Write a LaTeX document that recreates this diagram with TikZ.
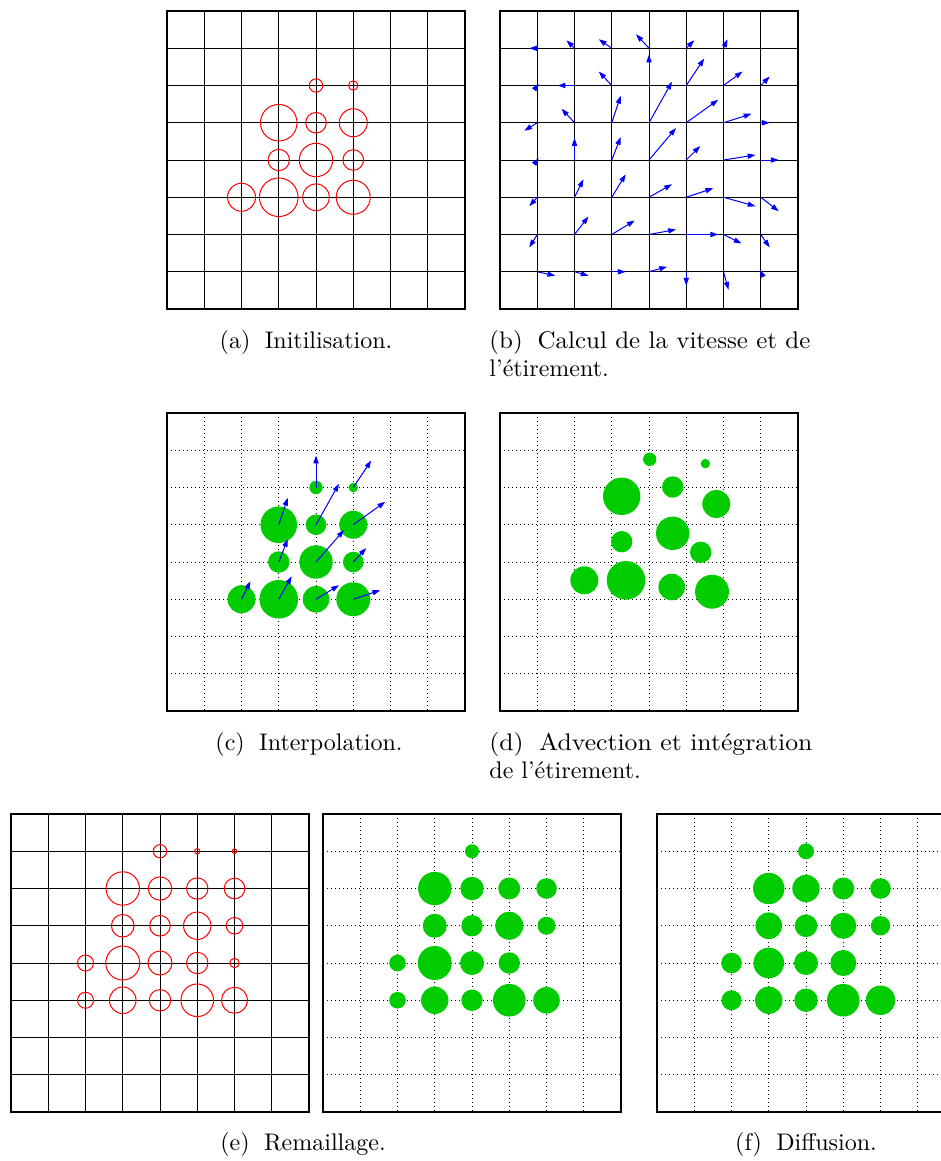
\documentclass[tikz,border=0pt]{standalone}
\usetikzlibrary{arrows.meta}
\definecolor{pgreen}{RGB}{0,204,0}
\newcommand\gridsolid{%
  \foreach \k in {1,...,7}{\draw[gl] (\k,0)--(\k,8); \draw[gl] (0,\k)--(8,\k);}%
  \draw[frm] (0,0) rectangle (8,8);}
\newcommand\griddotted{%
  \foreach \k in {1,...,7}{\draw[dl] (\k,0)--(\k,8); \draw[dl] (0,\k)--(8,\k);}%
  \draw[frm] (0,0) rectangle (8,8);}
\newcommand\captext[1]{\scalebox{1.2}{#1}}
\newcommand\capwide[2]{\resizebox{#1}{1.2\height}{#2}}
\begin{document}
\begin{tikzpicture}[x=0.5pt,y=-0.5pt,
  gl/.style={line width=0.5pt},
  dl/.style={line width=0.5pt, dash pattern=on 0.5pt off 1.5pt},
  frm/.style={line width=1pt},
  rc/.style={draw=red, line width=0.5pt},
  gc/.style={fill=pgreen},
  vel/.style={blue, line width=0.5pt, -{Triangle[length=3.9pt,width=2.6pt]}},
  captxt/.style={font=\fontsize{10}{12}\selectfont, inner sep=0pt},
  cell/.style={x=18.625pt,y=-18.625pt}]
\path[use as bounding box] (0,0) rectangle (941,1161);

% ---------- (a) ----------
\begin{scope}[shift={(167,11)},cell]
  \gridsolid
  \foreach \i/\j/\r in {4/2/6.7,5/2/4.7,3/3/18.3,4/3/10.3,5/3/14,3/4/10.7,4/4/16.7,5/4/10.3,2/5/14,3/5/19.3,4/5/13.3,5/5/17}{
    \pgfmathsetmacro\rr{\r*0.5}
    \draw[rc] (\i,\j) circle[radius=\rr pt];}
\end{scope}

% ---------- (b) ----------
\begin{scope}[shift={(500,11)},cell]
  \gridsolid
  \foreach \i/\j/\dx/\dy in {1/1/-8/0,2/1/-8/-8,3/1/-13/-9,4/1/-13/-14,5/1/8/-8,6/1/4/-9,
    1/2/1.5/-2,2/2/-17/0,3/2/-13/-14,4/2/0/-31,5/2/18/-27,6/2/19/-14,7/2/9/-9,
    1/3/-13/8,2/3/-13/-14,3/3/9/-27,4/3/23/-41,5/3/32/-23,6/3/28/-9,7/3/9/0,
    1/4/1.5/-2,2/4/0/-22,3/4/9/-23,4/4/27/-32,5/4/14/-14,6/4/32/-5,7/4/18/0,
    1/5/-8/9,2/5/9/-18,3/5/14/-23,4/5/23/-13,5/5/27/-9,6/5/32/9,7/5/18/14,
    1/6/-8/13,2/6/14/-18,3/6/23/-14,4/6/27/-5,5/6/32/0,6/6/18/9,7/6/9/13,
    1/7/18/4,2/7/14/4,3/7/14/0,4/7/18/-5,5/7/0/14,6/7/5/18,7/7/-1/-2}{
    \draw[vel] (\i,\j) -- ++({\dx/37.25},{\dy/37.25});}
\end{scope}

% ---------- (c) ----------
\begin{scope}[shift={(167,413)},cell]
  \griddotted
  \foreach \i/\j/\r in {4/2/6.7,5/2/4.7,3/3/18.3,4/3/10.3,5/3/14,3/4/10.7,4/4/16.7,5/4/10.3,2/5/14,3/5/19.3,4/5/13.3,5/5/17}{
    \pgfmathsetmacro\rr{\r*0.5}
    \fill[gc] (\i,\j) circle[radius=\rr pt];}
  \foreach \i/\j/\dx/\dy in {4/2/0/-32,5/2/18/-27,3/3/9/-27,4/3/23/-41,5/3/32/-23,3/4/9/-23,4/4/28/-32,5/4/13/-14,2/5/9/-18,3/5/13/-23,4/5/23/-14,5/5/27/-9}{
    \draw[vel] (\i,\j) -- ++({\dx/37.25},{\dy/37.25});}
\end{scope}

% ---------- (d) ----------
\begin{scope}[shift={(500,413)},cell]
  \griddotted
\end{scope}
\begin{scope}[shift={(500,413)}]
  \foreach \x/\y/\r in {149.7/46.3/6.7,205.3/50.7/4.7,121.7/83.3/18.7,172.7/74/10.7,216.3/91/14,121.7/128.7/10.7,172.7/120.3/16.7,200.7/139.3/10.7,84.3/167.3/14,126/167.3/19.3,171.7/174/13.3,212/178.7/17}{
    \pgfmathsetmacro\rr{\r*0.5}
    \fill[gc] (\x,\y) circle[radius=\rr pt];}
\end{scope}

% ---------- (e) left ----------
\begin{scope}[shift={(11,814)},cell]
  \gridsolid
  \foreach \i/\j/\r in {4/1/6.7,5/1/2.7,6/1/2.3,
    3/2/16.7,4/2/11.7,5/2/10.7,6/2/10.3,
    3/3/11.3,4/3/10.3,5/3/13.7,6/3/8.3,
    2/4/8,3/4/17,4/4/12,5/4/10.7,6/4/4.7,
    2/5/8,3/5/13.3,4/5/10.7,5/5/16.3,6/5/13}{
    \pgfmathsetmacro\rr{\r*0.5}
    \draw[rc] (\i,\j) circle[radius=\rr pt];}
\end{scope}

% ---------- (e) middle ----------
\begin{scope}[shift={(323,814)},cell]
  \griddotted
  \foreach \i/\j/\r in {4/1/7,
    3/2/16.7,4/2/11.7,5/2/11,6/2/10.3,
    3/3/12,4/3/10.7,5/3/14,6/3/9,
    2/4/8.3,3/4/17,4/4/12,5/4/10.7,
    2/5/8.3,3/5/13.7,4/5/10.7,5/5/16.3,6/5/13.3}{
    \pgfmathsetmacro\rr{\r*0.5}
    \fill[gc] (\i,\j) circle[radius=\rr pt];}
\end{scope}

% ---------- (f) ----------
\begin{scope}
  \clip (0,0) rectangle (941,1161);
  \begin{scope}[shift={(657,814)},cell]
    \griddotted
    \foreach \i/\j/\r in {4/1/8,
      3/2/15.7,4/2/13.7,5/2/11,6/2/10.3,
      3/3/13.3,4/3/11.3,5/3/13,6/3/9.7,
      2/4/10.3,3/4/15.3,4/4/12,5/4/13,
      2/5/10,3/5/13.7,4/5/11.7,5/5/16.3,6/5/14.7}{
      \pgfmathsetmacro\rr{\r*0.5}
      \fill[gc] (\i,\j) circle[radius=\rr pt];}
  \end{scope}
\end{scope}

% ---------- captions ----------
\node[captxt,anchor=base] (capa) at (306,348) {\captext{(a)\hspace{0.6em}Initilisation.}};
\node[captxt,anchor=base west] (capb1) at (489,348) {\capwide{160.5pt}{(b)\hspace{0.6em}Calcul de la vitesse et de}};
\node[captxt,anchor=base west] (capb2) at (489,376) {\captext{l'étirement.}};
\node[captxt,anchor=base] (capc) at (309,750) {\captext{(c)\hspace{0.6em}Interpolation.}};
\node[captxt,anchor=base west] (capd1) at (489,750) {\capwide{161.5pt}{(d)\hspace{0.6em}Advection et intégration}};
\node[captxt,anchor=base west] (capd2) at (489,778) {\captext{de l'étirement.}};
\node[captxt,anchor=base] (cape) at (303,1150) {\captext{(e)\hspace{0.6em}Remaillage.}};
\node[captxt,anchor=base] (capf) at (806,1150) {\captext{(f)\hspace{0.6em}Diffusion.}};
\end{tikzpicture}
\end{document}
